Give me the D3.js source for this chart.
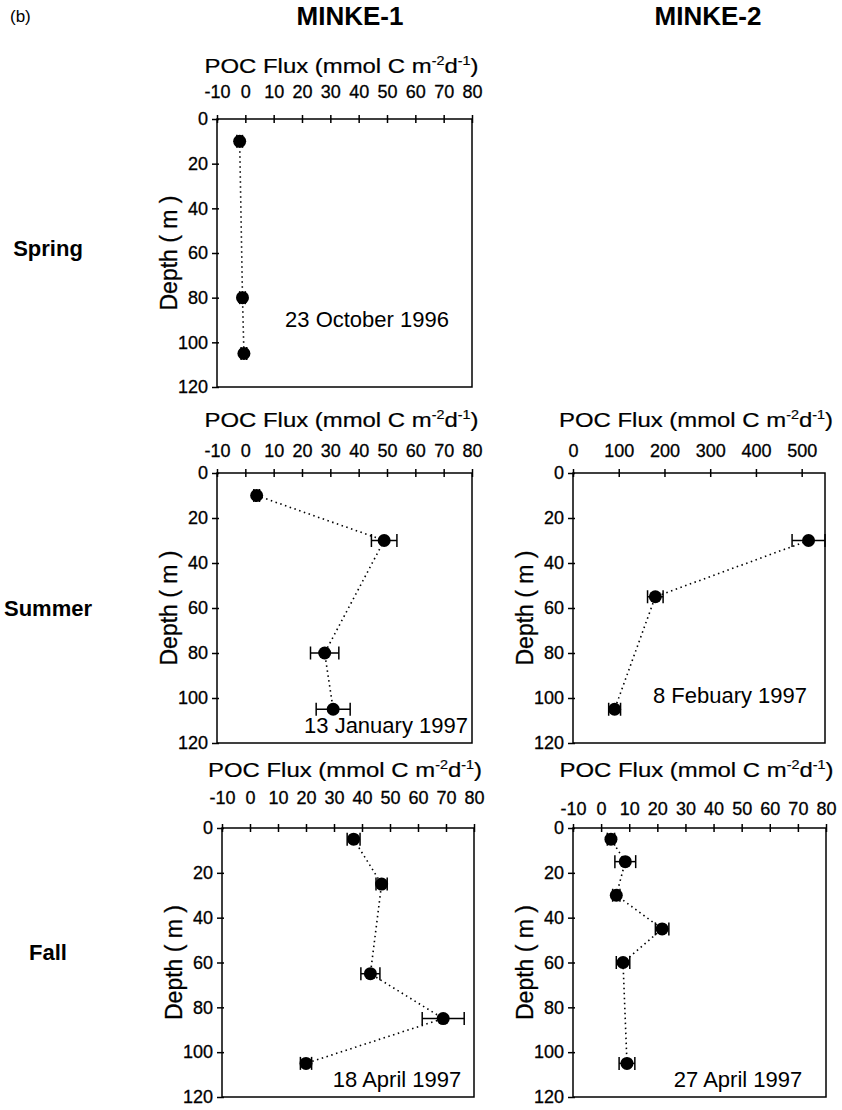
<!DOCTYPE html>
<html>
<head>
<meta charset="utf-8">
<script src="https://cdn.jsdelivr.net/npm/d3@7"></script>
<style>
  body { margin: 0; background: #fff; }
  svg { display: block; font-family: "Liberation Sans", Arial, sans-serif; }
</style>
</head>
<body>
<svg id="chart" width="842" height="1110"></svg>
<script>
// ---- data ----
var fluxTicks = [-10, 0, 10, 20, 30, 40, 50, 60, 70, 80];
var fluxTicksBig = [0, 100, 200, 300, 400, 500];
var depthTicks = [0, 20, 40, 60, 80, 100, 120];

var stations = ['MINKE-1', 'MINKE-2'];
var seasons = ['Spring', 'Summer', 'Fall'];

var spring1Depth = [10, 80, 105];
var spring1Flux = [-2, -1, -0.5];
var spring1Err = [1, 1, 1];

var summer1Depth = [10, 30, 80, 105];
var summer1Flux = [4, 49, 28, 31];
var summer1Err = [1, 4.5, 5, 6];

var summer2Depth = [30, 55, 105];
var summer2Flux = [515, 180, 91];
var summer2Err = [36, 17, 13];

var fall1Depth = [5, 25, 65, 85, 105];
var fall1Flux = [37, 47, 43, 69, 20];
var fall1Err = [2.3, 2, 3.4, 7.5, 2];

var fall2Depth = [5, 15, 30, 45, 60, 105];
var fall2Flux = [3.5, 8.6, 5.4, 21.7, 7.8, 9.2];
var fall2Err = [1.3, 3.7, 1.3, 2.4, 2.4, 2.8];

var dates = ['23 October 1996', '13 January 1997', '8 Febuary 1997', '18 April 1997', '27 April 1997'];

// ---- layout ----
var panels = [
  {depth: spring1Depth, flux: spring1Flux, err: spring1Err, xd: [-10, 80], ticks: fluxTicks, date: dates[0],
   l: 217, r: 472, t: 119, b: 387, titleY: 73, tickPad: 17, dateX: 367, dateY: 327},
  {depth: summer1Depth, flux: summer1Flux, err: summer1Err, xd: [-10, 80], ticks: fluxTicks, date: dates[1],
   l: 217, r: 472, t: 473, b: 743, titleY: 427, tickPad: 12, dateX: 386, dateY: 733},
  {depth: summer2Depth, flux: summer2Flux, err: summer2Err, xd: [0, 551], ticks: fluxTicksBig, date: dates[2],
   l: 573, r: 825, t: 473, b: 743, titleY: 427, tickPad: 12, dateX: 730, dateY: 703},
  {depth: fall1Depth, flux: fall1Flux, err: fall1Err, xd: [-10, 80], ticks: fluxTicks, date: dates[3],
   l: 222, r: 474, t: 828, b: 1097, titleY: 777, tickPad: 20, dateX: 397, dateY: 1087},
  {depth: fall2Depth, flux: fall2Flux, err: fall2Err, xd: [-10, 80], ticks: fluxTicks, date: dates[4],
   l: 573, r: 826, t: 828, b: 1097, titleY: 777, tickPad: 9, dateX: 738, dateY: 1087}
];

var svg = d3.select('#chart');

svg.append('text').attr('x', 10).attr('y', 22).attr('font-size', 17).text('(b)');
svg.selectAll('.station').data(stations).enter().append('text')
  .attr('class', 'station')
  .attr('x', function(d, i){ return i === 0 ? 350 : 708; })
  .attr('y', 25)
  .attr('text-anchor', 'middle')
  .attr('font-size', 26)
  .attr('font-weight', 'bold')
  .text(function(d){ return d; });

var seasonY = [256, 616, 960];
svg.selectAll('.season').data(seasons).enter().append('text')
  .attr('class', 'season')
  .attr('x', 48)
  .attr('y', function(d, i){ return seasonY[i]; })
  .attr('text-anchor', 'middle')
  .attr('font-size', 22)
  .attr('font-weight', 'bold')
  .text(function(d){ return d; });

panels.forEach(function(p){
  var x = d3.scaleLinear().domain(p.xd).range([p.l, p.r]);
  var y = d3.scaleLinear().domain([0, 120]).range([p.t, p.b]);

  // frame
  svg.append('rect')
    .attr('x', p.l).attr('y', p.t)
    .attr('width', p.r - p.l).attr('height', p.b - p.t)
    .attr('fill', 'none').attr('stroke', '#000').attr('stroke-width', 1.5);

  // top axis, ticks crossing the line
  var ax = svg.append('g')
    .attr('transform', 'translate(0,' + p.t + ')')
    .call(d3.axisTop(x).tickValues(p.ticks).tickSize(4).tickPadding(p.tickPad)
      .tickFormat(function(d){ return String(d); }));
  ax.select('.domain').remove();
  ax.selectAll('.tick line').attr('y1', 4).attr('y2', -4).attr('stroke-width', 1.5);
  ax.selectAll('.tick text').attr('font-size', 18).attr('font-family', '"Liberation Sans", Arial, sans-serif')
    .attr('fill', '#000').attr('stroke', '#000').attr('stroke-width', 0.3);

  // left axis
  var ay = svg.append('g')
    .attr('transform', 'translate(' + p.l + ',0)')
    .call(d3.axisLeft(y).tickValues(depthTicks).tickSize(5).tickPadding(4)
      .tickFormat(function(d){ return String(d); }));
  ay.select('.domain').remove();
  ay.selectAll('.tick line').attr('x2', -5).attr('x1', 2).attr('stroke-width', 1.5);
  ay.selectAll('.tick text').attr('font-size', 18).attr('font-family', '"Liberation Sans", Arial, sans-serif')
    .attr('fill', '#000').attr('stroke', '#000').attr('stroke-width', 0.3);

  // axis titles
  var cx = (p.l + p.r) / 2;
  var title = svg.append('text')
    .attr('x', cx).attr('y', p.titleY)
    .attr('text-anchor', 'middle')
    .attr('font-size', 20)
    .attr('stroke', '#000').attr('stroke-width', 0.2);
  title.append('tspan').text('POC Flux (mmol C m');
  title.append('tspan').attr('font-size', 12).attr('dy', -8).text('-2');
  title.append('tspan').attr('dy', 8).text('d');
  title.append('tspan').attr('font-size', 12).attr('dy', -8).text('-1');
  title.append('tspan').attr('dy', 8).text(')');
  // stretch the title to the printed width
  var w = title.node().getComputedTextLength();
  var s = 274 / w;
  title.attr('x', 0).attr('y', 0)
    .attr('transform', 'translate(' + (cx - 3) + ',' + p.titleY + ') scale(' + s + ',1)');

  svg.append('text')
    .attr('text-anchor', 'middle')
    .attr('font-size', 23)
    .attr('stroke', '#000').attr('stroke-width', 0.3)
    .text('Depth ( m )')
    .attr('transform', 'translate(' + (p.l - 40) + ',' + ((p.t + p.b) / 2) + ') rotate(-90)');

  var pts = p.depth.map(function(d, i){ return {depth: d, flux: p.flux[i], err: p.err[i]}; });

  // dotted connecting line
  var line = d3.line()
    .x(function(d){ return x(d.flux); })
    .y(function(d){ return y(d.depth); });
  svg.append('path')
    .datum(pts)
    .attr('d', line)
    .attr('fill', 'none')
    .attr('stroke', '#000')
    .attr('stroke-width', 1.6)
    .attr('stroke-dasharray', '1.5,3.5');

  // error bars
  var eb = svg.append('g').attr('stroke', '#000').attr('stroke-width', 1.5);
  pts.forEach(function(d){
    var yy = y(d.depth);
    eb.append('line').attr('x1', x(d.flux - d.err)).attr('x2', x(d.flux + d.err)).attr('y1', yy).attr('y2', yy);
    eb.append('line').attr('x1', x(d.flux - d.err)).attr('x2', x(d.flux - d.err)).attr('y1', yy - 6.5).attr('y2', yy + 6.5);
    eb.append('line').attr('x1', x(d.flux + d.err)).attr('x2', x(d.flux + d.err)).attr('y1', yy - 6.5).attr('y2', yy + 6.5);
  });

  svg.append('g').selectAll('circle').data(pts).enter().append('circle')
    .attr('cx', function(d){ return x(d.flux); })
    .attr('cy', function(d){ return y(d.depth); })
    .attr('r', 6.5)
    .attr('fill', '#000');

  svg.append('text')
    .attr('x', p.dateX).attr('y', p.dateY)
    .attr('text-anchor', 'middle')
    .attr('font-size', 22)
    .text(p.date);
});
</script>
</body>
</html>
